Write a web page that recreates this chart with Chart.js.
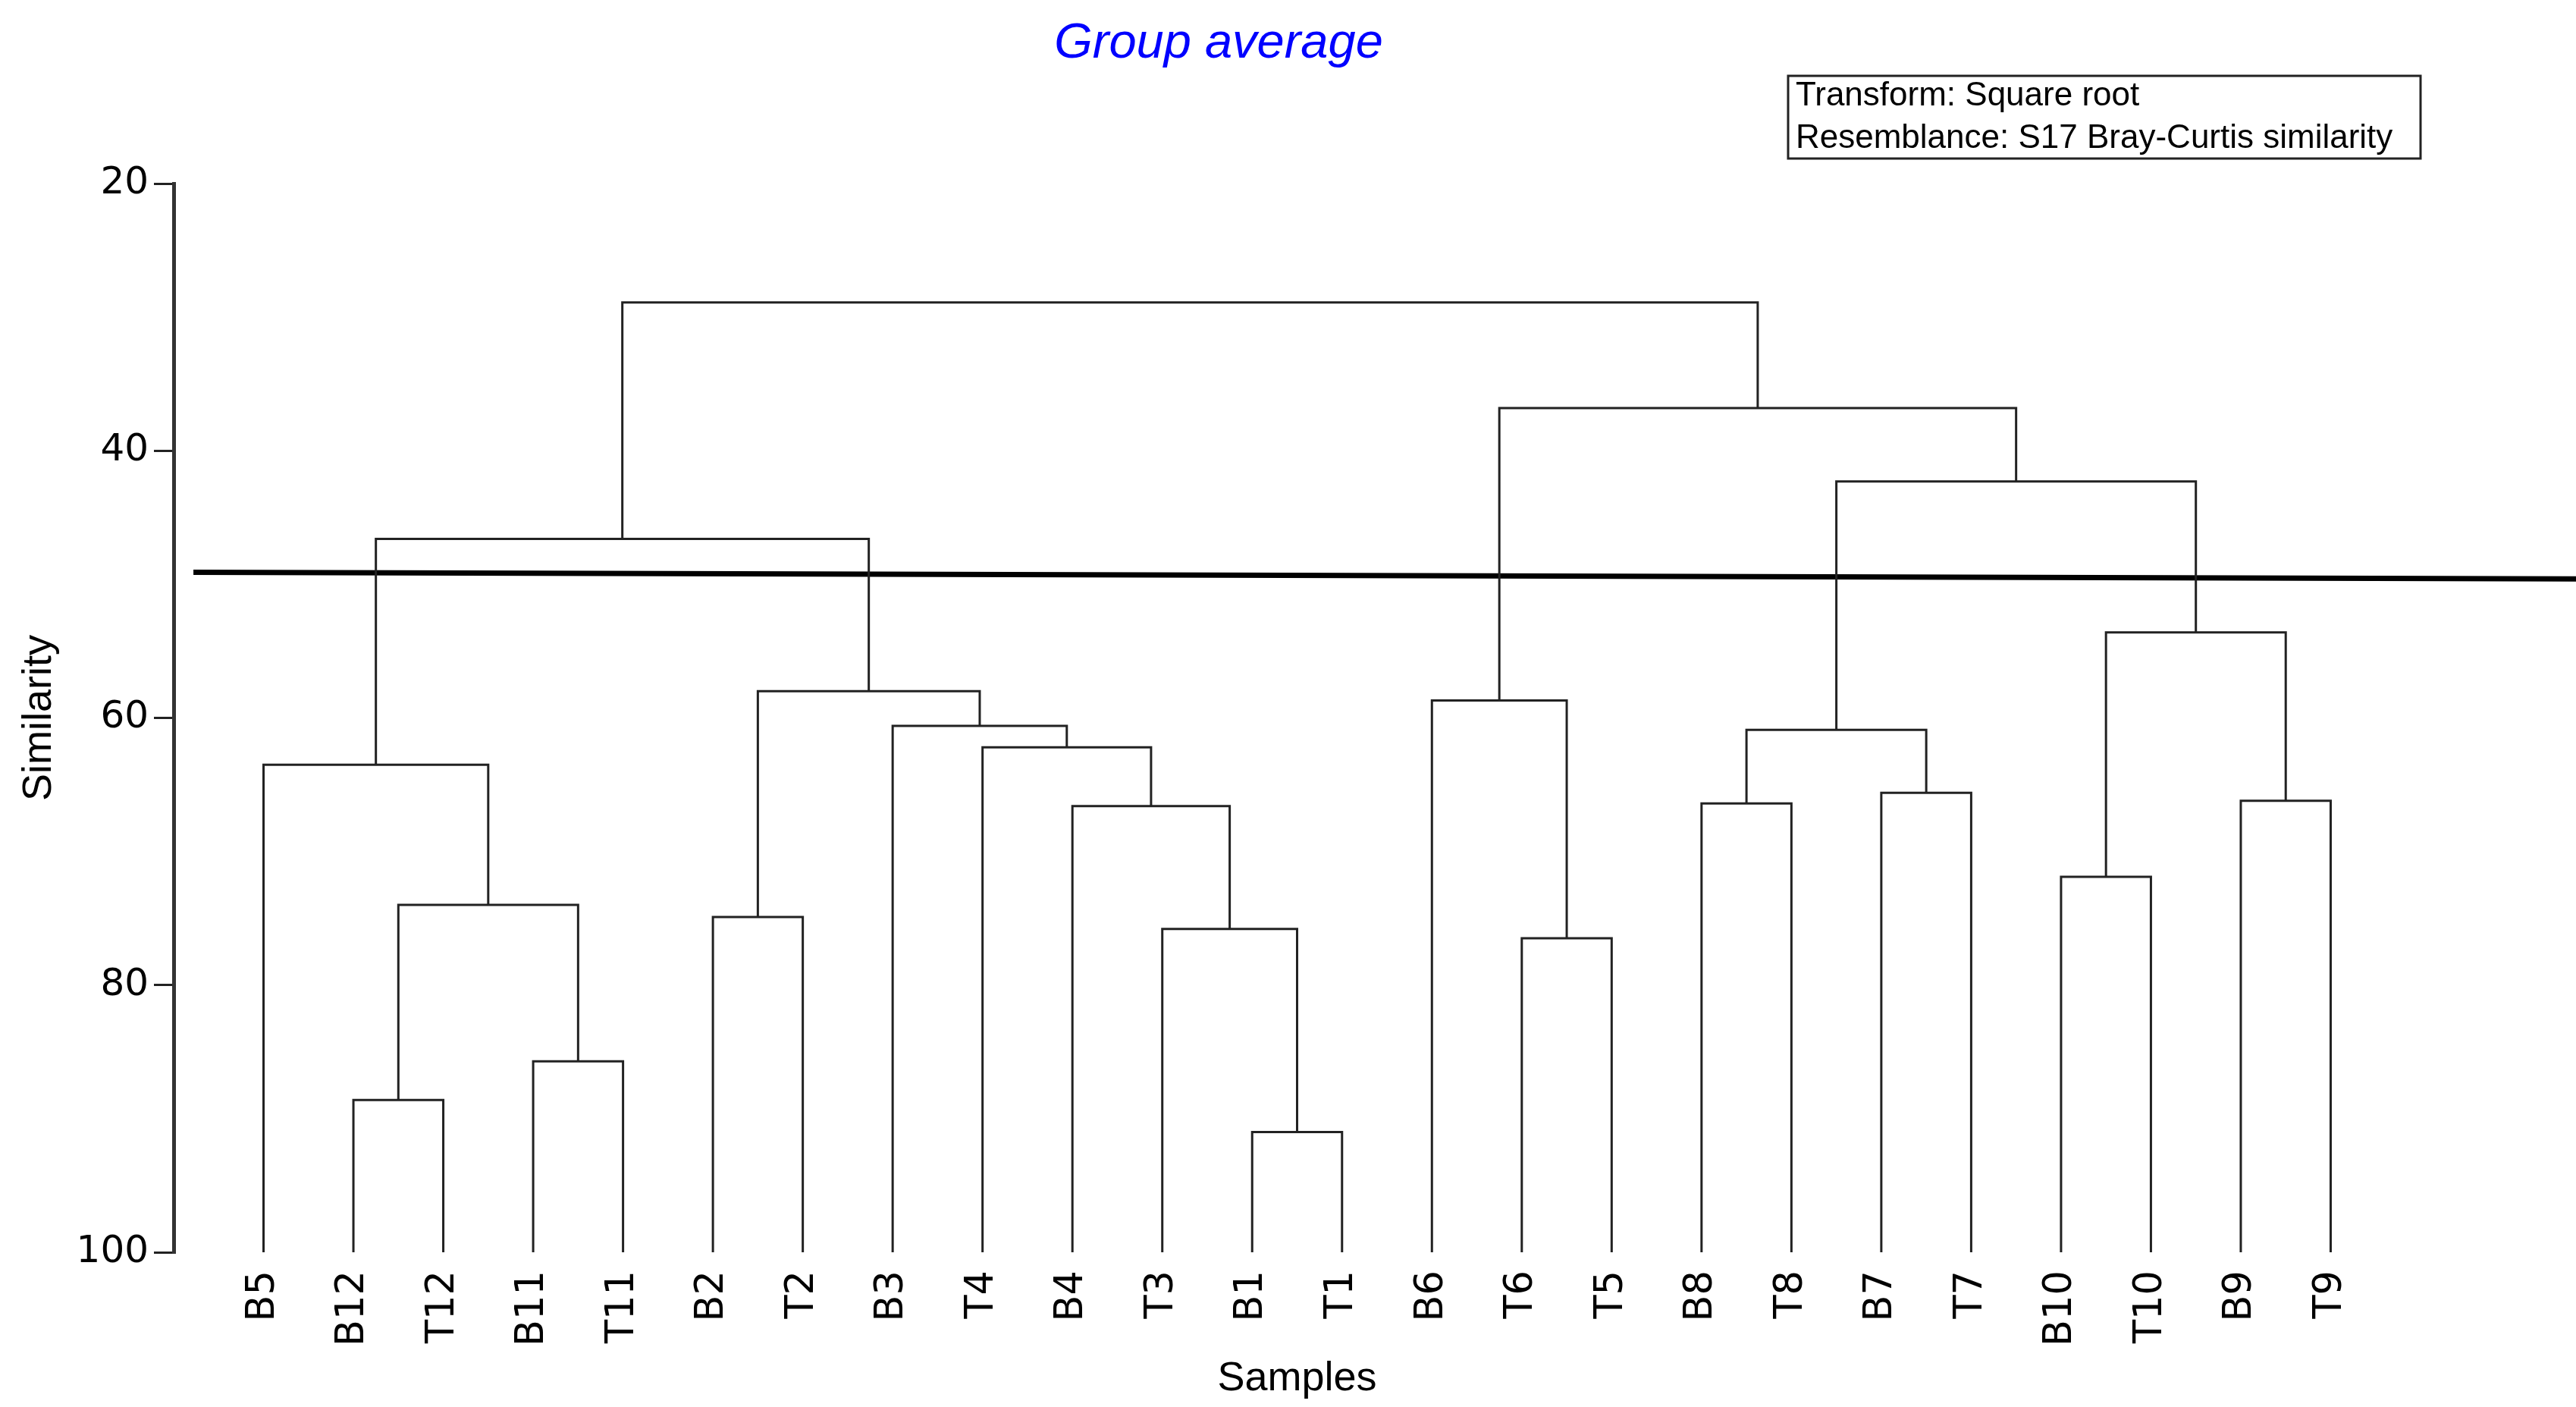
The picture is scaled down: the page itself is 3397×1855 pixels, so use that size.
<!DOCTYPE html>
<html>
<head>
<meta charset="utf-8">
<script src="https://cdn.jsdelivr.net/npm/chart.js@4/dist/chart.umd.min.js"></script>
<style>
  body { margin: 0; background: #fff; }
  canvas { display: block; }
</style>
</head>
<body>
<canvas id="chartDendrogram" width="3397" height="1855"></canvas>
<script>
// leaves, left to right
var leafLabels = ['B5', 'B12', 'T12', 'B11', 'T11', 'B2', 'T2', 'B3', 'T4', 'B4', 'T3', 'B1', 'T1',
                  'B6', 'T6', 'T5', 'B8', 'T8', 'B7', 'T7', 'B10', 'T10', 'B9', 'T9'];

// merges: child indexes (0-23 leaves, 24+ earlier merges)
var mergePairs = [
    [1, 2], [3, 4], [24, 25], [0, 26],
    [5, 6], [11, 12], [10, 29], [9, 30], [8, 31], [7, 32], [28, 33], [27, 34],
    [14, 15], [13, 36], [16, 17], [18, 19], [38, 39], [20, 21], [22, 23], [41, 42],
    [40, 43], [37, 44], [35, 45]
];
var mergeSimilarity = [
    88.6, 85.7, 74.0, 63.5,
    74.9, 91.0, 75.8, 66.6, 62.2, 60.6, 58.0, 46.6,
    76.5, 58.7, 66.4, 65.6, 60.9, 71.9, 66.2, 53.6,
    42.3, 36.8, 28.9
];

var yTicks = [20, 40, 60, 80, 100];
var cutLineX = [0.22, 27];
var cutLineY = [49.1, 49.6];

// node positions
var nodeX = [];
var nodeY = [];
for (var i = 0; i < leafLabels.length; i++) {
    nodeX.push(i + 1);
    nodeY.push(100);
}
var datasets = [];
for (var m = 0; m < mergePairs.length; m++) {
    var a = mergePairs[m][0], b = mergePairs[m][1], h = mergeSimilarity[m];
    datasets.push({
        data: [
            {x: nodeX[a], y: nodeY[a]},
            {x: nodeX[a], y: h},
            {x: nodeX[b], y: h},
            {x: nodeX[b], y: nodeY[b]}
        ],
        borderColor: '#222',
        borderWidth: 3,
        showLine: true,
        pointRadius: 0,
        fill: false
    });
    nodeX.push((nodeX[a] + nodeX[b]) / 2);
    nodeY.push(h);
}
datasets.push({
    data: [{x: cutLineX[0], y: cutLineY[0]}, {x: cutLineX[1], y: cutLineY[1]}],
    borderColor: '#000',
    borderWidth: 7,
    showLine: true,
    pointRadius: 0,
    fill: false,
    clip: false
});

var textPlugin = {
    id: 'textPlugin',
    afterDraw: function (chart) {
        var ctx = chart.ctx;
        ctx.save();
        ctx.fillStyle = '#0000FF';
        ctx.font = 'italic 65px "Liberation Sans"';
        ctx.textAlign = 'center';
        ctx.textBaseline = 'alphabetic';
        ctx.fillText('Group average', 1607, 76);

        ctx.strokeStyle = '#222';
        ctx.lineWidth = 3;
        ctx.strokeRect(2358, 100, 834, 109);
        ctx.fillStyle = '#000';
        ctx.font = '44px "Liberation Sans"';
        ctx.textAlign = 'left';
        ctx.fillText('Transform: Square root', 2368, 139);
        ctx.fillText('Resemblance: S17 Bray-Curtis similarity', 2368, 195);
        ctx.restore();
    }
};

var ctx = document.getElementById('chartDendrogram');
var myChart = new Chart(ctx, {
    type: 'scatter',
    data: { datasets: datasets },
    plugins: [textPlugin],
    options: {
        responsive: false,
        animation: false,
        devicePixelRatio: 1,
        layout: { padding: { top: 242, right: 205, bottom: 0, left: 0 } },
        plugins: {
            legend: { display: false },
            tooltip: { enabled: false }
        },
        scales: {
            x: {
                type: 'linear',
                min: 0,
                max: 25,
                afterBuildTicks: function (scale) {
                    scale.ticks = leafLabels.map(function (l, i) { return {value: i + 1}; });
                },
                afterFit: function (scale) { scale.height = 204; },
                grid: { display: false, drawTicks: false },
                border: { display: false },
                ticks: {
                    autoSkip: false,
                    minRotation: 90,
                    maxRotation: 90,
                    padding: 24,
                    color: '#000',
                    font: { family: 'DejaVu Sans', size: 51 },
                    callback: function (value) { return leafLabels[value - 1]; }
                },
                title: {
                    display: true,
                    text: 'Samples',
                    color: '#000',
                    font: { family: 'Liberation Sans', size: 54 },
                    padding: { top: 0, bottom: 4 }
                }
            },
            y: {
                type: 'linear',
                min: 20,
                max: 100,
                reverse: true,
                afterBuildTicks: function (scale) {
                    scale.ticks = yTicks.map(function (v) { return {value: v}; });
                },
                afterFit: function (scale) { scale.width = 229; },
                grid: {
                    display: true,
                    drawOnChartArea: false,
                    drawTicks: true,
                    tickLength: 26,
                    color: '#222',
                    lineWidth: 3
                },
                border: { display: true, color: '#333', width: 5 },
                ticks: {
                    padding: 7,
                    color: '#000',
                    font: { family: 'DejaVu Sans', size: 50 }
                },
                title: {
                    display: true,
                    text: 'Similarity',
                    color: '#000',
                    font: { family: 'Liberation Sans', size: 54 },
                    padding: { top: 20, bottom: 0 }
                }
            }
        }
    }
});
</script>
</body>
</html>
